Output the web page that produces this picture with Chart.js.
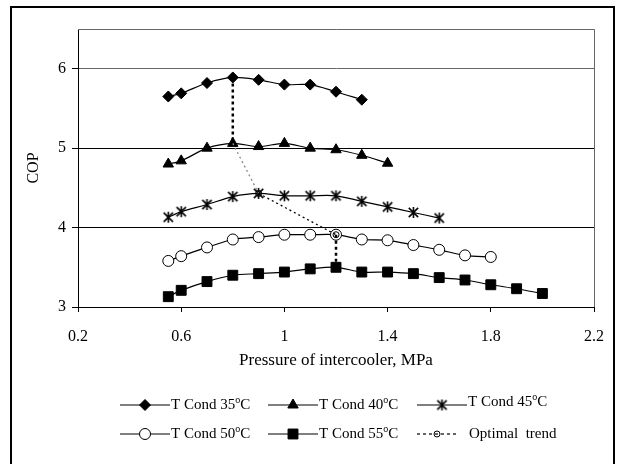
<!DOCTYPE html>
<html>
<head>
<meta charset="utf-8">
<script src="https://cdn.jsdelivr.net/npm/chart.js@4.4.0/dist/chart.umd.min.js"></script>
<style>
  html, body { margin: 0; padding: 0; background: #fff; }
  canvas { display: block; }
</style>
</head>
<body>
<canvas id="copChart" width="619" height="464"></canvas>
<script>
// values
const pressure = [0.55, 0.6, 0.7, 0.8, 0.9, 1.0, 1.1, 1.2, 1.3, 1.4, 1.5, 1.6, 1.7, 1.8, 1.9, 2.0];
const cop35 = [5.65, 5.69, 5.82, 5.89, 5.86, 5.80, 5.80, 5.71, 5.61];
const cop40 = [4.80, 4.84, 5.00, 5.06, 5.02, 5.06, 5.00, 4.98, 4.91, 4.81];
const cop45 = [4.13, 4.20, 4.29, 4.39, 4.43, 4.40, 4.40, 4.40, 4.33, 4.26, 4.19, 4.12];
const cop50 = [3.58, 3.64, 3.75, 3.85, 3.88, 3.91, 3.91, 3.91, 3.85, 3.84, 3.78, 3.72, 3.65, 3.63];
const cop55 = [3.13, 3.21, 3.32, 3.40, 3.42, 3.44, 3.48, 3.50, 3.44, 3.44, 3.42, 3.37, 3.34, 3.28, 3.23, 3.17];
const optimalX = [0.8, 0.8, 0.9, 1.2, 1.2];
const optimalY = [5.89, 5.06, 4.43, 3.91, 3.50];

const condTemps = ['35', '40', '45', '50', '55'];
const optimalLabel = 'Optimal  trend';
const xTicks = [0.2, 0.6, 1.0, 1.4, 1.8, 2.2];
const yTicks = [3, 4, 5, 6];

const FONT = 'Liberation Serif';

function toPoints(xs, ys) {
  return ys.map((y, i) => ({ x: xs[i], y: y }));
}

// Excel style asterisk marker (X with a vertical bar)
function makeStar(size) {
  const c = document.createElement('canvas');
  c.width = c.height = size;
  const g = c.getContext('2d');
  const m = size / 2, r = size / 2 - 1;
  g.strokeStyle = '#000';
  g.lineWidth = 1.6;
  g.beginPath();
  g.moveTo(m, m - r); g.lineTo(m, m + r);
  g.moveTo(m - r * 0.85, m - r * 0.85); g.lineTo(m + r * 0.85, m + r * 0.85);
  g.moveTo(m + r * 0.85, m - r * 0.85); g.lineTo(m - r * 0.85, m + r * 0.85);
  g.stroke();
  return c;
}
const starImg = makeStar(13);

function series(values, style, radius, fill) {
  return {
    data: toPoints(pressure, values),
    showLine: true,
    borderColor: '#000',
    borderWidth: 1.2,
    tension: 0.3,
    pointStyle: style,
    pointRadius: radius,
    pointBackgroundColor: fill,
    pointBorderColor: '#000',
    pointBorderWidth: 1,
    order: 1
  };
}

const datasets = [
  series(cop35, 'rectRot', 5.5, '#000'),
  series(cop40, 'triangle', 6, '#000'),
  series(cop45, starImg, 6, '#000'),
  series(cop50, 'circle', 5.5, '#fff'),
  series(cop55, 'rect', 7, '#000'),
  {
    data: toPoints(optimalX, optimalY),
    showLine: true,
    borderColor: '#000',
    borderWidth: 2,
    borderDash: [3, 3],
    tension: 0,
    pointStyle: 'circle',
    pointRadius: [0, 0, 3, 3, 0],
    pointBackgroundColor: 'rgba(0,0,0,0)',
    pointBorderColor: '#000',
    pointBorderWidth: 1,
    segment: {
      borderColor: c => c.p0DataIndex === 1 ? '#888' : '#000',
      borderWidth: c => (c.p0DataIndex === 0 || c.p0DataIndex === 3) ? 2.5 : 1.3,
      borderDash: c => (c.p0DataIndex === 0 || c.p0DataIndex === 3) ? [3, 3] : [2, 3]
    },
    order: -1
  }
];

// outer frame and the plot box
const framePlugin = {
  id: 'frames',
  beforeDraw(chart) {
    const ctx = chart.ctx;
    ctx.save();
    ctx.fillStyle = '#fff';
    ctx.fillRect(0, 0, chart.width, chart.height);
    ctx.strokeStyle = '#000';
    ctx.lineWidth = 2;
    ctx.strokeRect(11, 7, 603, 470);
    ctx.restore();
  },
  beforeDatasetsDraw(chart) {
    const a = chart.chartArea, ctx = chart.ctx;
    ctx.save();
    ctx.strokeStyle = '#666';
    ctx.lineWidth = 1;
    ctx.beginPath();
    ctx.moveTo(a.left, a.top + 0.5);
    ctx.lineTo(a.right + 0.5, a.top + 0.5);
    ctx.lineTo(a.right + 0.5, a.bottom);
    ctx.stroke();
    ctx.restore();
  }
};

// legend: 3 columns x 2 rows under the axis title
const legendPlugin = {
  id: 'bottomLegend',
  afterDraw(chart) {
    const ctx = chart.ctx;
    const rows = [405, 434];
    const cols = [120, 268, 417];
    const lineLen = 50;
    ctx.save();
    ctx.textBaseline = 'middle';
    ctx.fillStyle = '#000';
    chart.data.datasets.forEach((ds, i) => {
      const x = cols[i % 3];
      const y = rows[Math.floor(i / 3)];
      ctx.strokeStyle = '#000';
      ctx.lineWidth = 1.2;
      ctx.setLineDash(i < 5 ? [] : [3, 3]);
      ctx.beginPath();
      ctx.moveTo(x, y);
      ctx.lineTo(x + (i < 5 ? lineLen : 40), y);
      ctx.stroke();
      ctx.setLineDash([]);

      const mx = x + (i < 5 ? lineLen / 2 : 20);
      ctx.fillStyle = i === 3 ? '#fff' : (i === 5 ? 'rgba(0,0,0,0)' : '#000');
      ctx.lineWidth = 1;
      Chart.helpers.drawPoint(ctx, {
        pointStyle: ds.pointStyle,
        radius: i === 5 ? 3 : ds.pointRadius,
        borderWidth: 1,
        rotation: 0
      }, mx, y);

      ctx.fillStyle = '#000';
      let tx = x + (i < 5 ? lineLen + 1 : 52);
      const ty = (i === 2) ? y - 3 : y;
      if (i < 5) {
        ctx.font = '15px "' + FONT + '"';
        const base = 'T Cond ' + condTemps[i];
        ctx.fillText(base, tx, ty);
        tx += ctx.measureText(base).width;
        ctx.font = '10px "' + FONT + '"';
        ctx.fillText('o', tx, ty - 5);
        tx += ctx.measureText('o').width;
        ctx.font = '15px "' + FONT + '"';
        ctx.fillText('C', tx, ty);
      } else {
        ctx.font = '15px "' + FONT + '"';
        ctx.fillText(optimalLabel, tx, ty);
      }
    });
    ctx.restore();
  }
};

const copChart = new Chart(document.getElementById('copChart').getContext('2d'), {
  type: 'scatter',
  data: { datasets: datasets },
  options: {
    responsive: false,
    animation: false,
    events: [],
    layout: { padding: { left: 24, top: 29, right: 25, bottom: 93 } },
    plugins: {
      legend: { display: false },
      tooltip: { enabled: false }
    },
    scales: {
      x: {
        type: 'linear',
        min: 0.2,
        max: 2.2,
        afterBuildTicks: scale => { scale.ticks = xTicks.map(v => ({ value: v })); },
        afterFit: scale => { scale.height = 64; },
        grid: { drawOnChartArea: false, drawTicks: true, tickLength: 5, color: '#000', tickColor: '#000' },
        border: { color: '#000', width: 1 },
        ticks: {
          color: '#000',
          padding: 15,
          maxRotation: 0,
          font: { family: FONT, size: 16 },
          callback: v => String(+v.toFixed(1))
        },
        title: {
          display: true,
          text: 'Pressure of intercooler, MPa',
          color: '#000',
          padding: 0,
          font: { family: FONT, size: 17 }
        }
      },
      y: {
        type: 'linear',
        min: 3,
        max: 6.5,
        afterBuildTicks: scale => { scale.ticks = yTicks.map(v => ({ value: v })); },
        afterFit: scale => { scale.width = 54; },
        grid: {
          color: c => (c.tick && c.tick.value === 6) ? '#666' : '#000',
          tickColor: '#000',
          tickLength: 6,
          lineWidth: 1
        },
        border: { color: '#000', width: 1 },
        ticks: {
          color: '#000',
          padding: 6,
          font: { family: FONT, size: 16 },
          callback: v => String(v)
        },
        title: {
          display: true,
          text: 'COP',
          color: '#000',
          padding: 0,
          font: { family: FONT, size: 16 }
        }
      }
    }
  },
  plugins: [framePlugin, legendPlugin]
});
</script>
</body>
</html>
